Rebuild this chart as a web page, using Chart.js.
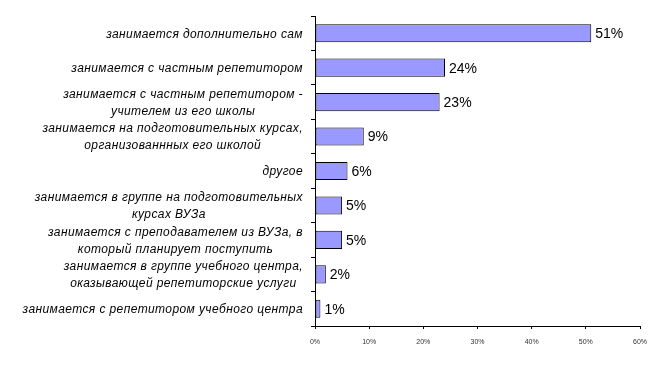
<!DOCTYPE html>
<html>
<head>
<meta charset="utf-8">
<script src="https://cdn.jsdelivr.net/npm/chart.js@4/dist/chart.umd.min.js"></script>
<style>
    html, body { margin: 0; padding: 0; background: #fff; }
    canvas { display: block; }
</style>
</head>
<body>
<canvas id="chart" width="666" height="365"></canvas>
<script>
const categories = [
    ['занимается дополнительно сам'],
    ['занимается с частным репетитором'],
    ['занимается с частным репетитором -', 'учителем из его школы'],
    ['занимается на подготовительных курсах,', 'организованнных его школой'],
    ['другое'],
    ['занимается в группе на подготовительных', 'курсах ВУЗа'],
    ['занимается с преподавателем из ВУЗа, в', 'который планирует поступить'],
    ['занимается в группе учебного центра,', 'оказывающей репетиторские услуги'],
    ['занимается с репетитором учебного центра']
];
const shares = [51, 24, 23, 9, 6, 5, 5, 2, 1];
const xTicks = [0, 10, 20, 30, 40, 50, 60];

// category labels: block right-aligned, lines centred inside it
const categoryLabels = {
    id: 'categoryLabels',
    afterDraw(chart) {
        const ctx = chart.ctx;
        const yScale = chart.scales.y;
        const right = 303;
        const lineH = 17;
        ctx.save();
        ctx.font = 'italic 12px "Liberation Sans", Arial, sans-serif';
        ctx.letterSpacing = '0.4px';
        ctx.fillStyle = '#000';
        ctx.textAlign = 'center';
        ctx.textBaseline = 'middle';
        categories.forEach((lines, i) => {
            const maxW = Math.max(...lines.map(l => ctx.measureText(l).width));
            const cx = right - maxW / 2;
            const cy = yScale.getPixelForValue(i) + 1;
            const top = cy - (lines.length - 1) * lineH / 2;
            lines.forEach((l, k) => ctx.fillText(l, cx, top + k * lineH));
        });
        ctx.restore();
    }
};

const valueLabels = {
    id: 'valueLabels',
    afterDatasetsDraw(chart) {
        const ctx = chart.ctx;
        const meta = chart.getDatasetMeta(0);
        ctx.save();
        ctx.font = '14px "Liberation Sans", Arial, sans-serif';
        ctx.fillStyle = '#000';
        ctx.textBaseline = 'middle';
        meta.data.forEach((bar, i) => {
            ctx.fillText(shares[i] + '%', bar.x + 4, bar.y + 1);
        });
        ctx.restore();
    }
};

new Chart(document.getElementById('chart'), {
    type: 'bar',
    data: {
        labels: categories,
        datasets: [{
            data: shares,
            backgroundColor: '#9999ff',
            borderColor: '#000',
            borderWidth: 1,
            borderSkipped: false,
            barPercentage: 0.74,
            categoryPercentage: 0.71
        }]
    },
    options: {
        indexAxis: 'y',
        responsive: false,
        animation: false,
        layout: { padding: { left: 0, top: 16, right: 26, bottom: 0 } },
        plugins: {
            legend: { display: false },
            tooltip: { enabled: false }
        },
        scales: {
            x: {
                min: 0,
                max: 60,
                afterBuildTicks: (scale) => { scale.ticks = xTicks.map(v => ({ value: v })); },
                afterFit: (scale) => { scale.height = 39; },
                grid: { drawOnChartArea: false, drawTicks: true, tickLength: 3, color: '#000' },
                border: { display: true, color: '#000', width: 1 },
                ticks: {
                    callback: (v) => v + '%',
                    font: { size: 7, family: '"Liberation Sans", Arial, sans-serif' },
                    color: '#333',
                    padding: 9,
                    maxRotation: 0
                }
            },
            y: {
                afterFit: (scale) => { scale.width = 315; },
                grid: { offset: true, drawOnChartArea: false, drawTicks: true, tickLength: 4, color: '#000' },
                border: { display: true, color: '#000', width: 1 },
                ticks: { display: false }
            }
        }
    },
    plugins: [categoryLabels, valueLabels]
});
</script>
</body>
</html>
